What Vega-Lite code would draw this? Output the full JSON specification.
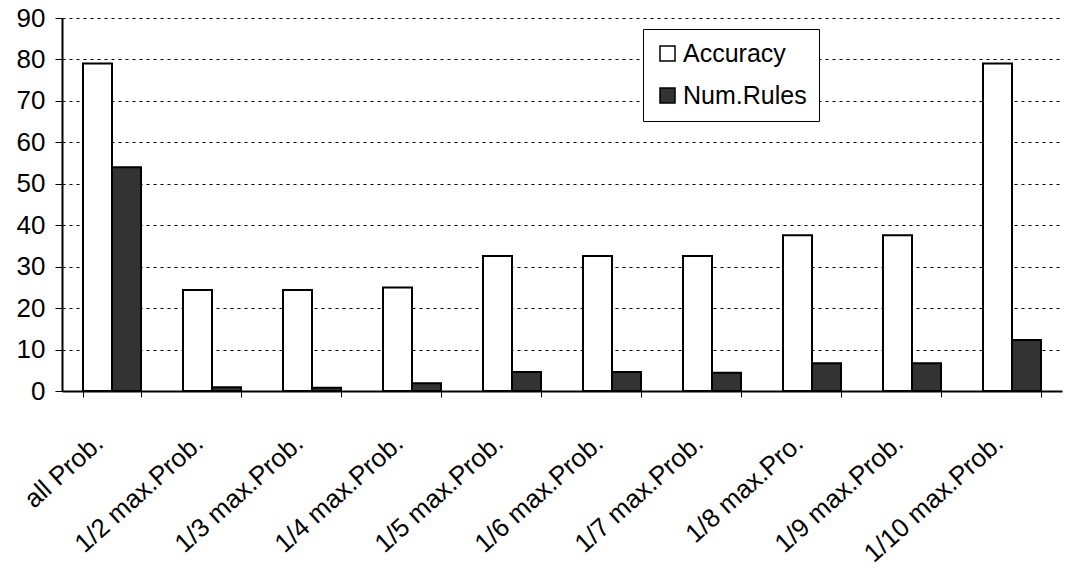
{
  "$schema": "https://vega.github.io/schema/vega-lite/v6.json",
  "width": 1000,
  "height": 373,
  "autosize": {"type": "none"},
  "padding": {"left": 62, "top": 18, "right": 7, "bottom": 185},
  "background": "white",
  "config": {
    "font": "Liberation Sans",
    "view": {"stroke": null}
  },
  "data": {
    "values": [
      {"cat": "all Prob.", "series": "Accuracy", "value": 79},
      {"cat": "all Prob.", "series": "Num.Rules", "value": 54},
      {"cat": "1/2 max.Prob.", "series": "Accuracy", "value": 24.4},
      {"cat": "1/2 max.Prob.", "series": "Num.Rules", "value": 0.9},
      {"cat": "1/3 max.Prob.", "series": "Accuracy", "value": 24.4},
      {"cat": "1/3 max.Prob.", "series": "Num.Rules", "value": 0.8},
      {"cat": "1/4 max.Prob.", "series": "Accuracy", "value": 25},
      {"cat": "1/4 max.Prob.", "series": "Num.Rules", "value": 1.9},
      {"cat": "1/5 max.Prob.", "series": "Accuracy", "value": 32.6},
      {"cat": "1/5 max.Prob.", "series": "Num.Rules", "value": 4.6},
      {"cat": "1/6 max.Prob.", "series": "Accuracy", "value": 32.6},
      {"cat": "1/6 max.Prob.", "series": "Num.Rules", "value": 4.6},
      {"cat": "1/7 max.Prob.", "series": "Accuracy", "value": 32.6},
      {"cat": "1/7 max.Prob.", "series": "Num.Rules", "value": 4.4},
      {"cat": "1/8 max.Pro.", "series": "Accuracy", "value": 37.6},
      {"cat": "1/8 max.Pro.", "series": "Num.Rules", "value": 6.7},
      {"cat": "1/9 max.Prob.", "series": "Accuracy", "value": 37.6},
      {"cat": "1/9 max.Prob.", "series": "Num.Rules", "value": 6.7},
      {"cat": "1/10 max.Prob.", "series": "Accuracy", "value": 79},
      {"cat": "1/10 max.Prob.", "series": "Num.Rules", "value": 12.3}
    ]
  },
  "mark": {"type": "bar", "stroke": "black", "strokeWidth": 2},
  "encoding": {
    "x": {
      "field": "cat",
      "type": "nominal",
      "sort": null,
      "scale": {"paddingInner": 0.42, "paddingOuter": 0.21},
      "axis": {
        "title": null,
        "labelAngle": -42,
        "labelAlign": "right",
        "labelBaseline": "middle",
        "labelFontSize": 26,
        "labelColor": "black",
        "labelPadding": 42,
        "labelOffset": -13,
        "labelLimit": 400,
        "labelOverlap": false,
        "domainColor": "black",
        "domainWidth": 2,
        "tickColor": "black",
        "tickBand": "extent",
        "tickSize": 6,
        "grid": false
      }
    },
    "xOffset": {"field": "series", "type": "nominal", "scale": {"paddingInner": 0, "paddingOuter": 0}},
    "y": {
      "field": "value",
      "type": "quantitative",
      "scale": {"domain": [0, 90], "nice": false},
      "axis": {
        "title": null,
        "values": [0, 10, 20, 30, 40, 50, 60, 70, 80, 90],
        "labelFontSize": 26,
        "labelColor": "black",
        "labelPadding": 10,
        "labelOverlap": false,
        "domainColor": "black",
        "domainWidth": 2,
        "tickColor": "black",
        "tickSize": 7,
        "grid": true,
        "gridColor": "black",
        "gridDash": [3, 4],
        "gridWidth": 1
      }
    },
    "fill": {
      "field": "series",
      "type": "nominal",
      "scale": {"domain": ["Accuracy", "Num.Rules"], "range": ["white", "#333333"]},
      "legend": {
        "title": null,
        "orient": "none",
        "legendX": 581,
        "legendY": 11,
        "symbolType": "square",
        "symbolSize": 225,
        "symbolStrokeColor": "black",
        "symbolStrokeWidth": 1.5,
        "labelFontSize": 25,
        "labelColor": "black",
        "labelOffset": 3,
        "rowPadding": 16,
        "padding": 12,
        "strokeColor": "black",
        "fillColor": "white"
      }
    }
  }
}
